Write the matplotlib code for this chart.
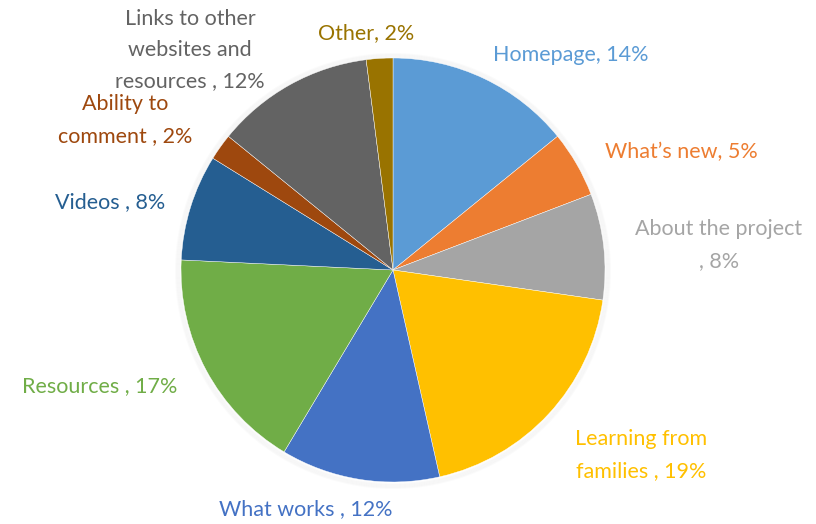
import matplotlib
matplotlib.use("Agg")
import matplotlib.pyplot as plt
from matplotlib.patches import Circle

# data
categories = ["Homepage", "What\u2019s new", "About the project\n", "Learning from\nfamilies ",
              "What works ", "Resources ", "Videos ", "Ability to\ncomment ",
              "Links to other\nwebsites and\nresources ", "Other"]
values = [14, 5, 8, 19, 12, 17, 8, 2, 12, 2]
colors = ["#5B9BD5", "#ED7D31", "#A5A5A5", "#FFC000", "#4472C4",
          "#70AD47", "#255E91", "#9E480E", "#636363", "#997300"]

# label centres in image pixels (x, y from top)
label_pos = [(571, 55), (681, 152), (719, 245), (641, 455), (306, 509),
             (100, 386), (110, 202), (125, 120), (190, 50), (366, 33)]

W, H = 816, 524
fig = plt.figure(figsize=(W / 100, H / 100), dpi=100)
ax = fig.add_axes([0, 0, 1, 1])

cx, cy, r = 393, H - 270, 212

# faint shadow around the pie
for i in range(5):
    ax.add_patch(Circle((cx, cy - 1), r + 1 + i, facecolor="none",
                        edgecolor="#000000", alpha=0.015, linewidth=1.5, zorder=0))

ax.pie(values, colors=colors, startangle=90, counterclock=False,
       center=(cx, cy), radius=r, frame=True,
       wedgeprops=dict(linewidth=0.3, edgecolor="white"))
ax.set_xlim(0, W)
ax.set_ylim(0, H)
ax.set_aspect("equal")
ax.axis("off")

for name, v, c, (x, y) in zip(categories, values, colors, label_pos):
    ax.text(x, H - y, f"{name}, {v}%", color=c, ha="center", va="center",
            fontsize=15.5, family="Lato", linespacing=1.7)

fig.savefig("out.png", dpi=100)
